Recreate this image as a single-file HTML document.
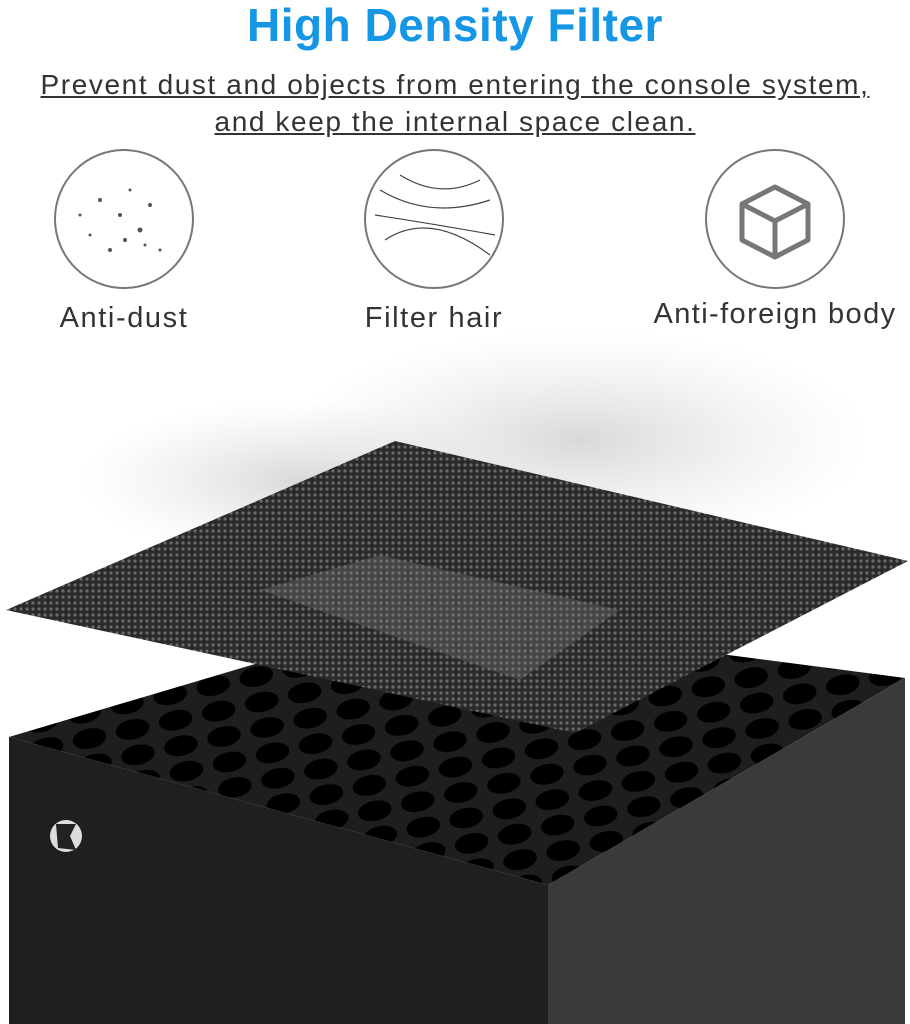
<!DOCTYPE html>
<html><head><meta charset="utf-8"><style>
html,body{margin:0;padding:0;background:#fff;}
body{width:910px;height:1024px;position:relative;overflow:hidden;font-family:"Liberation Sans",sans-serif;}
.t{position:absolute;left:0;width:910px;text-align:center;}
</style></head><body>
<div class="t" style="top:-2px;font-size:46px;font-weight:bold;color:#1597e5;letter-spacing:0.5px;">High Density Filter</div>
<div class="t" style="top:66px;font-size:28px;color:#333;line-height:37px;letter-spacing:1.6px;"><span style="text-decoration:underline;">Prevent dust and objects from entering the console system,</span><br><span style="text-decoration:underline;">and keep the internal space clean.</span></div>
<svg width="910" height="1024" style="position:absolute;left:0;top:0">
<defs>
<pattern id="mesh" width="6" height="6" patternUnits="userSpaceOnUse"><rect width="6" height="6" fill="#2a2a2a"/><circle cx="3" cy="3" r="1.6" fill="#6a6a6a"/></pattern>
<radialGradient id="dust" cx="50%" cy="50%" r="50%"><stop offset="0" stop-color="#aaa" stop-opacity=".45"/><stop offset="1" stop-color="#ccc" stop-opacity="0"/></radialGradient>
<pattern id="holes" width="44" height="26" patternUnits="userSpaceOnUse" patternTransform="rotate(-12)"><rect width="44" height="26" fill="#1e1e1e"/><ellipse cx="22" cy="13" rx="17" ry="10" fill="#000"/></pattern>
</defs>
<g fill="none" stroke="#777" stroke-width="2">
<circle cx="124" cy="219" r="69"/><circle cx="434" cy="219" r="69"/><circle cx="775" cy="219" r="69"/>
</g>
<g fill="#555"><circle cx="100" cy="200" r="2"/><circle cx="120" cy="215" r="2"/><circle cx="140" cy="230" r="2.5"/><circle cx="90" cy="235" r="1.5"/><circle cx="150" cy="205" r="2"/><circle cx="110" cy="250" r="2"/><circle cx="160" cy="250" r="1.5"/><circle cx="80" cy="215" r="1.5"/><circle cx="130" cy="190" r="1.5"/><circle cx="125" cy="240" r="2"/><circle cx="145" cy="245" r="1.5"/></g>
<g fill="none" stroke="#444" stroke-width="1.2"><path d="M380 190 Q430 220 490 200"/><path d="M375 215 Q440 225 495 235"/><path d="M385 240 Q430 210 490 255"/><path d="M400 175 Q440 200 480 180"/></g>
<g fill="none" stroke="#777" stroke-width="5" stroke-linejoin="round"><path d="M775 187 L808 204 L808 240 L775 257 L742 240 L742 204 Z M742 204 L775 221 L808 204 M775 221 L775 257"/></g>
<text x="124" y="327" text-anchor="middle" font-size="29" letter-spacing="1.6" fill="#333">Anti-dust</text>
<text x="434" y="327" text-anchor="middle" font-size="29" letter-spacing="1.6" fill="#333">Filter hair</text>
<text x="775" y="323" text-anchor="middle" font-size="29" letter-spacing="1.4" fill="#333">Anti-foreign body</text>
<ellipse cx="580" cy="440" rx="290" ry="110" fill="url(#dust)"/>
<ellipse cx="300" cy="480" rx="220" ry="80" fill="url(#dust)"/>
<polygon points="9,737 420,615 905,678 548,885" fill="url(#holes)"/>
<polygon points="9,737 548,885 548,1024 9,1024" fill="#1f1f1f"/>
<polygon points="548,885 905,678 905,1024 548,1024" fill="#3a3a3a"/>
<polygon points="6,610 395,441 908,561 575,733" fill="url(#mesh)"/>
<polygon points="260,590 380,555 620,610 520,680" fill="#777" opacity=".35"/>
<circle cx="66" cy="836" r="16" fill="#ddd"/><path d="M56 824 L76 824 L70 836 L76 850 L58 848 Z" fill="#222"/>
</svg>
</body></html>
